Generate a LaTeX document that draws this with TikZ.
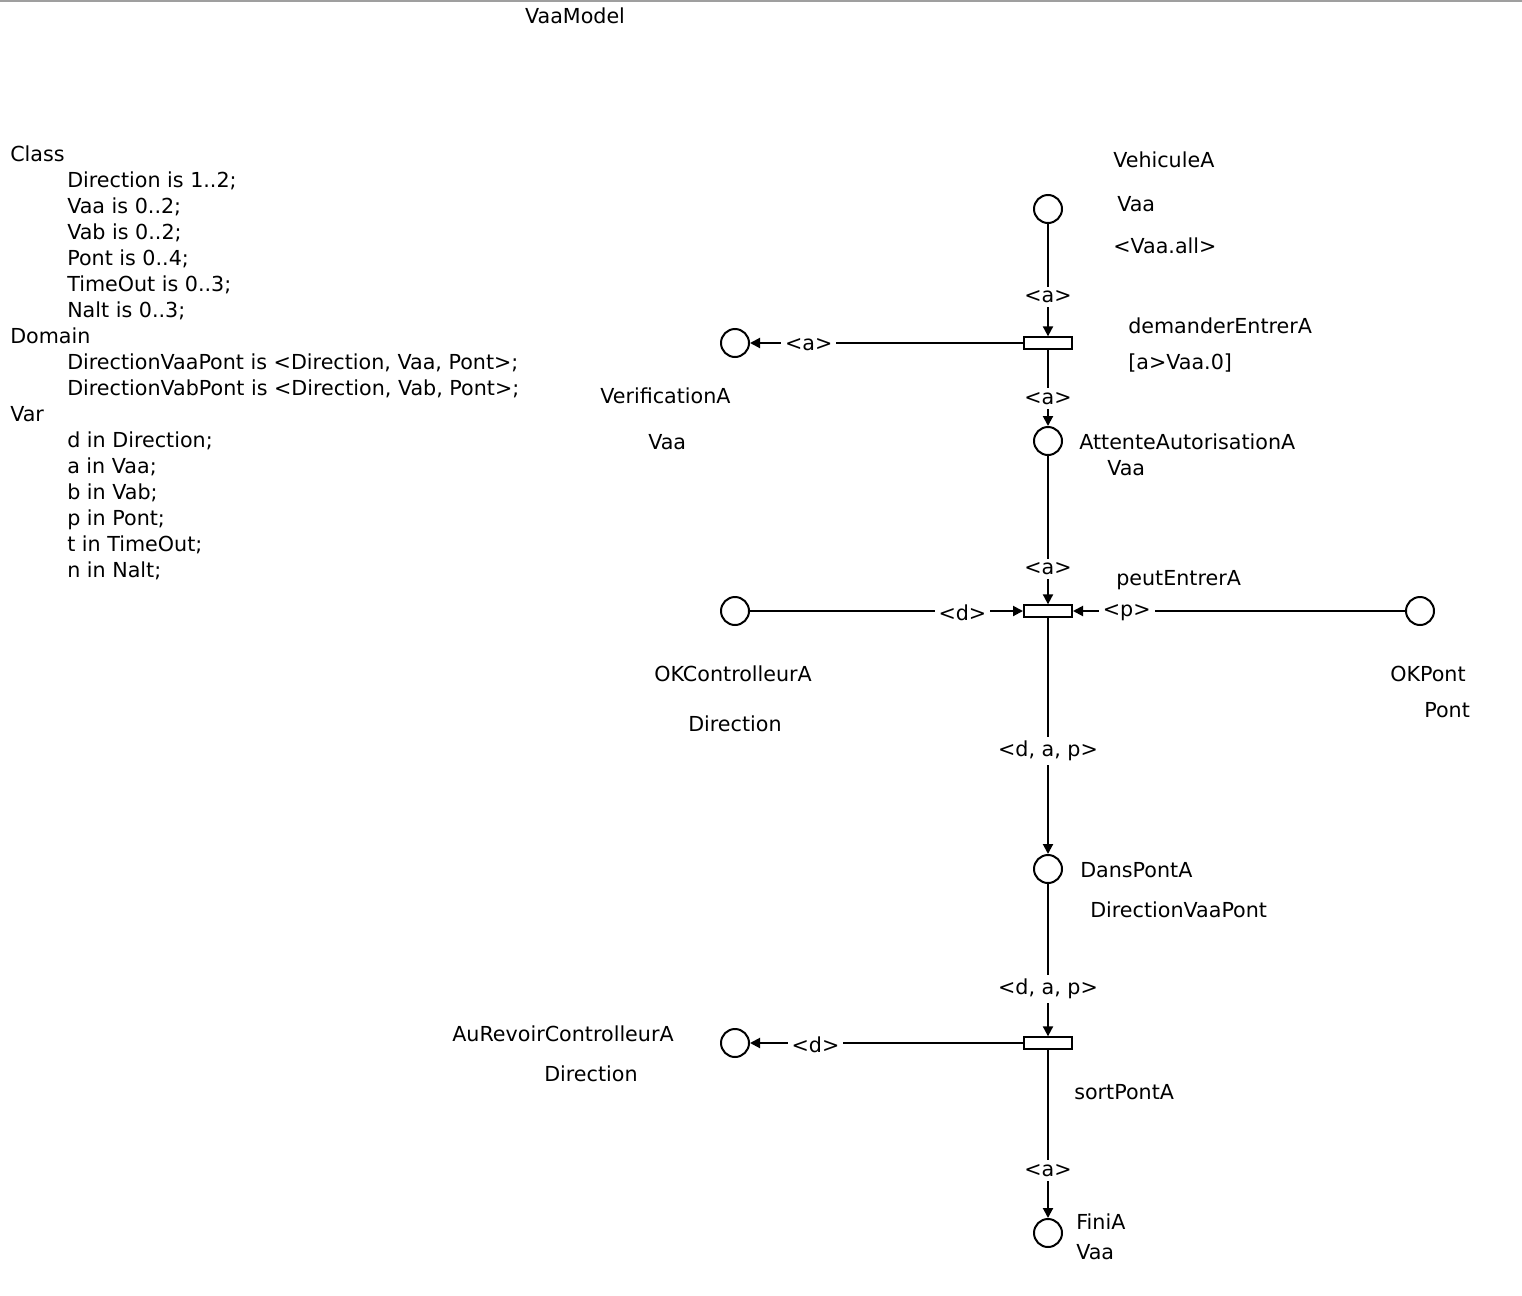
\documentclass[tikz,border=0pt]{standalone}
\usepackage{fontspec}
\setmainfont{DejaVu Sans}
\usetikzlibrary{arrows.meta}
\tikzset{
  place/.style={circle, draw, line width=1.5pt, minimum size=21pt, inner sep=0pt},
  trans/.style={rectangle, draw, line width=1.5pt, minimum width=36pt, minimum height=8.5pt, inner sep=0pt, fill=white},
  arc/.style={line width=1.5pt, -{Triangle[length=7.5pt,width=7.5pt]}},
  lbl/.style={fill=white, inner sep=3pt, font=\fs, yshift=-1.5pt},
  txt/.style={anchor=west, inner sep=0pt, font=\fs, text height=0.75em, text depth=0.25em, yshift=-3pt},
}
\newcommand\fs{\fontsize{15.5}{19.5}\selectfont}
\begin{document}
\begin{tikzpicture}[x=0.75pt, y=-0.75pt]
\useasboundingbox (0,0) rectangle (1522,1296);
\fill[white] (0,0) rectangle (1522,1296);
\draw[gray!75, line width=1.5pt] (0,1) -- (1522,1);

\node[txt, anchor=center] (title) at (575,16) {VaaModel};

% declarations
\node[txt] (l1) at (10,154) {Class};
\node[txt] (l2) at (67,180) {Direction is 1..2;};
\node[txt] (l3) at (67,206) {Vaa is 0..2;};
\node[txt] (l4) at (67,232) {Vab is 0..2;};
\node[txt] (l5) at (67,258) {Pont is 0..4;};
\node[txt] (l6) at (67,284) {TimeOut is 0..3;};
\node[txt] (l7) at (67,310) {Nalt is 0..3;};
\node[txt] (l8) at (10,336) {Domain};
\node[txt] (l9) at (67,362) {DirectionVaaPont is <Direction, Vaa, Pont>;};
\node[txt] (l10) at (67,388) {DirectionVabPont is <Direction, Vab, Pont>;};
\node[txt] (l11) at (10,414) {Var};
\node[txt] (l12) at (67,440) {d in Direction;};
\node[txt] (l13) at (67,466) {a in Vaa;};
\node[txt] (l14) at (67,492) {b in Vab;};
\node[txt] (l15) at (67,518) {p in Pont;};
\node[txt] (l16) at (67,544) {t in TimeOut;};
\node[txt] (l17) at (67,570) {n in Nalt;};

% places
\node[place] (veh) at (1048,209) {};
\node[place] (ver) at (735,343) {};
\node[place] (att) at (1048,441) {};
\node[place] (okc) at (735,611) {};
\node[place] (okp) at (1420,611) {};
\node[place] (dp) at (1048,869) {};
\node[place] (ar) at (735,1043) {};
\node[place] (fin) at (1048,1233) {};

% transitions
\node[trans] (de) at (1048,343) {};
\node[trans] (pe) at (1048,611) {};
\node[trans] (sp) at (1048,1043) {};

% place / transition labels
\node[txt] (tveh1) at (1113,160) {VehiculeA};
\node[txt] (tveh2) at (1117,204) {Vaa};
\node[txt] (tveh3) at (1113,246) {<Vaa.all>};
\node[txt] (tde1) at (1128,326) {demanderEntrerA};
\node[txt] (tde2) at (1128,362) {[a>Vaa.0]};
\node[txt] (tver1) at (600,396) {VerificationA};
\node[txt] (tver2) at (648,442) {Vaa};
\node[txt] (tatt1) at (1079,442) {AttenteAutorisationA};
\node[txt] (tatt2) at (1107,468) {Vaa};
\node[txt] (tpe) at (1116,578) {peutEntrerA};
\node[txt] (tokc1) at (654,674) {OKControlleurA};
\node[txt] (tokc2) at (688,724) {Direction};
\node[txt] (tokp1) at (1390,674) {OKPont};
\node[txt] (tokp2) at (1424,710) {Pont};
\node[txt] (tdp1) at (1080,870) {DansPontA};
\node[txt] (tdp2) at (1090,910) {DirectionVaaPont};
\node[txt] (tar1) at (452,1034) {AuRevoirControlleurA};
\node[txt] (tar2) at (544,1074) {Direction};
\node[txt] (tsp) at (1074,1092) {sortPontA};
\node[txt] (tfin1) at (1076,1222) {FiniA};
\node[txt] (tfin2) at (1076,1252) {Vaa};

% arcs
\draw[arc] (veh) -- node[lbl, pos=0.63] {<a>} (de);
\draw[arc] (de) -- node[lbl, pos=0.785] {<a>} (ver);
\draw[arc] (de) -- node[lbl, pos=0.615] {<a>} (att);
\draw[arc] (att) -- node[lbl, pos=0.747] {<a>} (pe);
\draw[arc] (okc) -- node[lbl, pos=0.778] {<d>} (pe);
\draw[arc] (okp) -- node[lbl, pos=0.838] {<p>} (pe);
\draw[arc] (pe) -- node[lbl, pos=0.555] {<d, a, p>} (dp);
\draw[arc] (dp) -- node[lbl, pos=0.675] {<d, a, p>} (sp);
\draw[arc] (sp) -- node[lbl, pos=0.76] {<d>} (ar);
\draw[arc] (sp) -- node[lbl, pos=0.706] {<a>} (fin);
\end{tikzpicture}
\end{document}
